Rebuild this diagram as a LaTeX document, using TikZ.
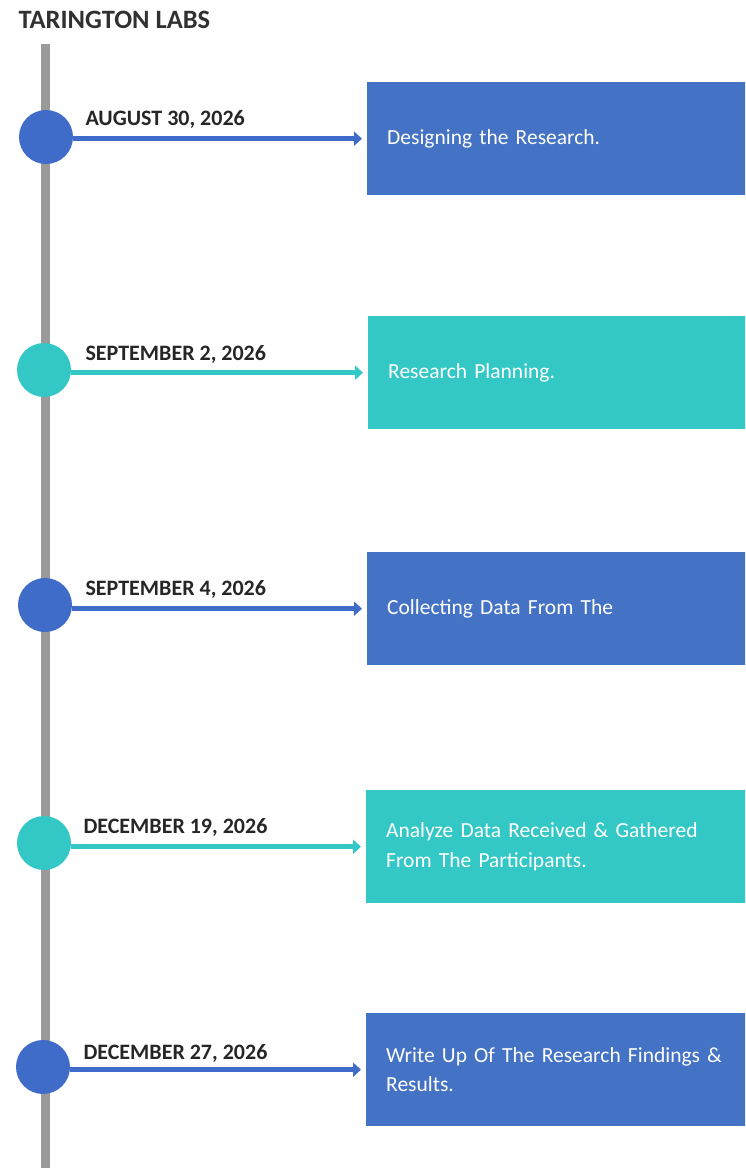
\documentclass[tikz,border=0pt]{standalone}
\usepackage{fontspec}
\setmainfont{Carlito}
\usetikzlibrary{arrows.meta}
\definecolor{tlblue}{HTML}{4472C4}
\definecolor{tldot}{HTML}{3F6CC8}
\definecolor{tlteal}{HTML}{33C8C6}
\definecolor{barg}{HTML}{9A9A9A}
\definecolor{ink}{HTML}{262626}
\begin{document}
\begin{tikzpicture}[x=1pt,y=-1pt,
  dot/.style={circle, minimum size=54pt, inner sep=0pt, fill=#1},
  card/.style={rectangle, fill=#1, anchor=north west, minimum width=400pt,
    minimum height=113pt, text width=360pt, inner xsep=20pt, inner ysep=0pt,
    align=left, text=white, font=\fontsize{21.5}{29.5}\selectfont},
  datelbl/.style={anchor=base west, font=\bfseries\fontsize{22}{26}\selectfont, text=ink},
  link/.style={draw=#1, line width=4.5pt, -{Triangle[length=8pt,width=14pt]}, shorten >=5pt},
]
\useasboundingbox (0,0) rectangle (745,1168);
\clip (0,0) rectangle (745,1168);

% title
\node[anchor=base west, font=\bfseries\fontsize{26.5}{30}\selectfont, text=ink!95] (title) at (15,28) {TARINGTON LABS};

% timeline bar
\draw[barg, line width=9pt] (45,44) -- (45,1168);

% circles
\node[dot=tldot]  (c1) at (46,137) {};
\node[dot=tlteal] (c2) at (44,370) {};
\node[dot=tldot]  (c3) at (45,605) {};
\node[dot=tlteal] (c4) at (44,843) {};
\node[dot=tldot]  (c5) at (43,1067) {};

% dates
\node[datelbl] (d1) at (82,125) {AUGUST 30, 2026};
\node[datelbl] (d2) at (82,360) {SEPTEMBER 2, 2026};
\node[datelbl] (d3) at (82,595) {SEPTEMBER 4, 2026};
\node[datelbl] (d4) at (80,833) {DECEMBER 19, 2026};
\node[datelbl] (d5) at (80,1059) {DECEMBER 27, 2026};

% boxes
\node[card=tlblue] (b1) at (367,82)  {Designing the Research.};
\node[card=tlteal] (b2) at (368,316) {Research Planning.};
\node[card=tlblue] (b3) at (367,552) {Collecting Data From The};
\node[card=tlteal] (b4) at (366,790) {Analyze Data Received \& Gathered\\From The Participants.};
\node[card=tlblue] (b5) at (366,1013) {Write Up Of The Research Findings \&\\Results.};

% connectors
\draw[link=tldot]  (c1.east |- b1.west) -- (b1.west);
\draw[link=tlteal] (c2.east |- b2.west) -- (b2.west);
\draw[link=tldot]  (c3.east |- b3.west) -- (b3.west);
\draw[link=tlteal] (c4.east |- b4.west) -- (b4.west);
\draw[link=tldot]  (c5.east |- b5.west) -- (b5.west);
\end{tikzpicture}
\end{document}
